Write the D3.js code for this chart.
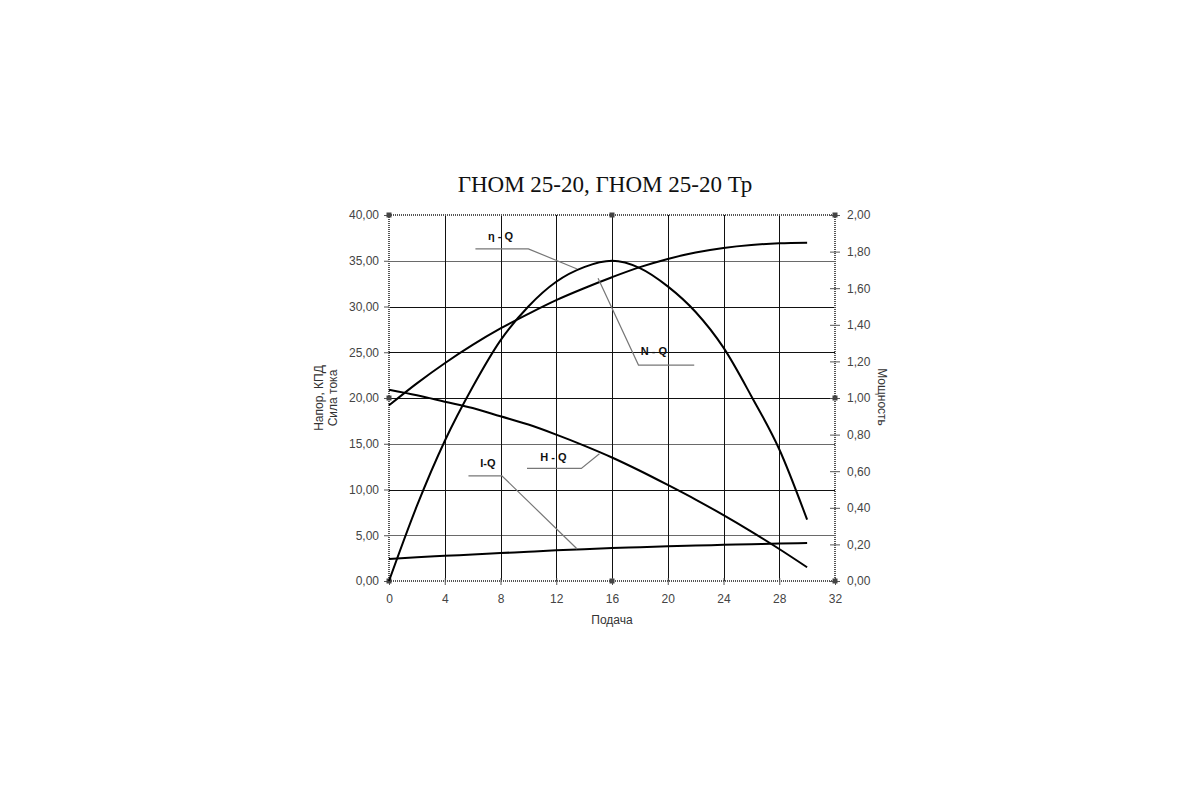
<!DOCTYPE html>
<html>
<head>
<meta charset="utf-8">
<script src="https://cdn.jsdelivr.net/npm/d3@7/dist/d3.min.js"></script>
<style>
  html, body { margin: 0; padding: 0; background: #fff; }
  svg { display: block; }
</style>
</head>
<body>
<svg id="chart" width="1200" height="800"></svg>
<script>
// ---- Data ----
const title = "ГНОМ 25-20, ГНОМ 25-20 Тр";
const flow = [0, 2, 4, 6, 8, 10, 12, 14, 16, 18, 20, 22, 24, 26, 28, 30];
const headH = [20.9, 20.3, 19.6, 18.9, 18.0, 17.1, 16.0, 14.8, 13.5, 12.05, 10.5, 8.9, 7.2, 5.4, 3.5, 1.5];
const efficiency = [0, 8.2, 15.3, 21.2, 26.3, 30.0, 32.7, 34.3, 35.0, 34.2, 32.2, 29.4, 25.5, 20.2, 14.4, 6.7];
const current = [2.4, 2.6, 2.75, 2.9, 3.05, 3.2, 3.35, 3.48, 3.6, 3.7, 3.8, 3.88, 3.95, 4.02, 4.1, 4.15];
const power = [0.96, 1.08, 1.19, 1.29, 1.38, 1.46, 1.535, 1.60, 1.66, 1.715, 1.76, 1.795, 1.82, 1.836, 1.845, 1.848];
const xTicks = [0, 4, 8, 12, 16, 20, 24, 28, 32];
const leftTicks = [0, 5, 10, 15, 20, 25, 30, 35, 40];
const rightTicks = [0, 0.2, 0.4, 0.6, 0.8, 1.0, 1.2, 1.4, 1.6, 1.8, 2.0];
const leftTitle = ["Напор, КПД", "Сила тока"];
const rightTitle = "Мощность";
const xTitle = "Подача";
const curveLabels = ["η - Q", "N - Q", "H - Q", "I-Q"];

// ---- Layout ----
const L = 389, R = 835, T = 215, B = 581;
const svg = d3.select("#chart");
const x = d3.scaleLinear().domain([0, 32]).range([L, R]);
const yL = d3.scaleLinear().domain([0, 40]).range([B, T]);
const yR = d3.scaleLinear().domain([0, 2]).range([B, T]);
const fmt = v => d3.format(".2f")(v).replace(".", ",");

// Title
svg.append("text").attr("x", 605).attr("y", 192).attr("text-anchor", "middle")
  .attr("font-family", "Liberation Serif, Times New Roman, serif").attr("font-size", 23)
  .attr("fill", "#111").text(title);

// Gridlines
const g = svg.append("g");
g.selectAll(".hg").data(leftTicks.filter(d => d > 0 && d < 40)).enter().append("line")
  .attr("x1", L).attr("x2", R).attr("y1", d => Math.round(yL(d)) + 0.5).attr("y2", d => Math.round(yL(d)) + 0.5)
  .attr("stroke", d => (d % 10 === 5 && d !== 25) ? "#6a6a6a" : "#111").attr("stroke-width", 1);
g.selectAll(".vg").data(xTicks.filter(d => d > 0 && d < 32)).enter().append("line")
  .attr("y1", T).attr("y2", B).attr("x1", d => Math.round(x(d)) + 0.5).attr("x2", d => Math.round(x(d)) + 0.5)
  .attr("stroke", "#111").attr("stroke-width", 1);

// Axes
const axisFont = "Liberation Sans, Arial, sans-serif";
const leftAxis = svg.append("g").attr("transform", `translate(${L},0)`)
  .call(d3.axisLeft(yL).tickValues(leftTicks).tickFormat(fmt).tickSize(5).tickPadding(5));
const rightAxis = svg.append("g").attr("transform", `translate(${R},0)`)
  .call(d3.axisRight(yR).tickValues(rightTicks).tickFormat(fmt).tickSize(5).tickPadding(7));
const bottomAxis = svg.append("g").attr("transform", `translate(0,${B})`)
  .call(d3.axisBottom(x).tickValues(xTicks).tickFormat(d3.format("d")).tickSize(4).tickPadding(9));
[leftAxis, rightAxis, bottomAxis].forEach(a => {
  a.select(".domain").remove();
  a.selectAll("text").attr("font-family", axisFont).attr("font-size", 12).attr("fill", "#444");
  a.selectAll("line").attr("stroke", "#555");
});
rightAxis.selectAll(".tick line").attr("x1", -5);
bottomAxis.selectAll(".tick line").attr("y1", -3);

// Dotted frame
const frame = svg.append("g");
[[L, T, R, T], [L, B, R, B], [L, T, L, B], [R, T, R, B]].forEach(s => {
  frame.append("line").attr("x1", s[0]).attr("y1", s[1]).attr("x2", s[2]).attr("y2", s[3])
    .attr("stroke", "#555").attr("stroke-width", 2).attr("stroke-dasharray", "1,1");
});
const markers = [[L, T], [R, T], [L, B], [R, B], [(L + R) / 2, T], [(L + R) / 2, B], [L, (T + B) / 2], [R, (T + B) / 2]];
frame.selectAll(".mk").data(markers).enter().append("rect")
  .attr("x", d => d[0] - 2.5).attr("y", d => d[1] - 2.5).attr("width", 5).attr("height", 5)
  .attr("fill", "#444");

// Curves
const lineL = d3.line().x((d, i) => x(flow[i])).y(d => yL(d)).curve(d3.curveMonotoneX);
const lineR = d3.line().x((d, i) => x(flow[i])).y(d => yR(d)).curve(d3.curveMonotoneX);
const curves = svg.append("g").attr("fill", "none").attr("stroke", "#000").attr("stroke-width", 2);
curves.append("path").attr("d", lineL(headH));
curves.append("path").attr("d", lineL(efficiency));
curves.append("path").attr("d", lineL(current));
curves.append("path").attr("d", lineR(power));

// Labels with leader lines (positions in data units of left axis)
const labelPos = [[8.0, 37.7], [19.0, 25.1], [11.8, 13.6], [7.1, 12.9]];
const leaders = [
  [[6.2, 36.3], [10.0, 36.3], [13.5, 34.1]],
  [[21.9, 23.6], [17.9, 23.6], [15.0, 33.1]],
  [[9.9, 12.3], [13.8, 12.3], [15.1, 13.9]],
  [[5.7, 11.5], [8.1, 11.5], [13.5, 3.5]]
];
const lead = d3.line().x(d => x(d[0])).y(d => yL(d[1]));
svg.append("g").selectAll("path").data(leaders).enter().append("path")
  .attr("d", lead).attr("fill", "none").attr("stroke", "#777").attr("stroke-width", 1.2);
svg.append("g").selectAll("text").data(curveLabels).enter().append("text")
  .attr("x", (d, i) => x(labelPos[i][0])).attr("y", (d, i) => yL(labelPos[i][1]) + 4)
  .attr("text-anchor", "middle").attr("font-family", axisFont).attr("font-weight", "bold")
  .attr("font-size", 11).attr("fill", "#111").text(d => d);

// Axis titles
const lt = svg.append("text").attr("transform", "translate(323,398) rotate(-90)")
  .attr("text-anchor", "middle").attr("font-family", axisFont).attr("font-size", 12).attr("fill", "#333");
lt.append("tspan").attr("x", 0).attr("dy", 0).text(leftTitle[0]);
lt.append("tspan").attr("x", 0).attr("dy", 14).text(leftTitle[1]);
svg.append("text").attr("transform", "translate(878,397) rotate(90)")
  .attr("text-anchor", "middle").attr("font-family", axisFont).attr("font-size", 12).attr("fill", "#333")
  .text(rightTitle);
svg.append("text").attr("x", x(16)).attr("y", 624).attr("text-anchor", "middle")
  .attr("font-family", axisFont).attr("font-size", 12).attr("fill", "#333").text(xTitle);
</script>
</body>
</html>
